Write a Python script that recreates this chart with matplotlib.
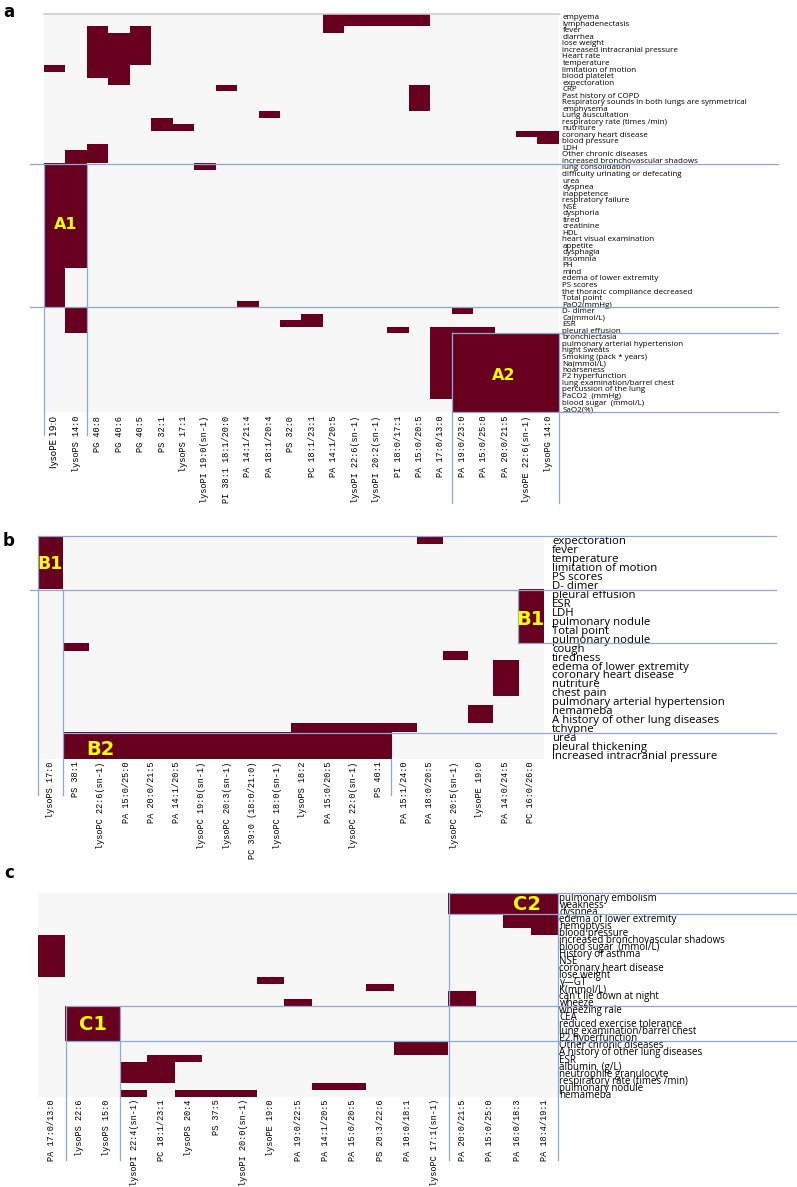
import numpy as np
import matplotlib
matplotlib.use("Agg")
import matplotlib.pyplot as plt
from matplotlib.colors import ListedColormap

# ---------------- data: panel a ----------------
a_rows = ["empyema", "lymphadenectasis", "fever", "diarrhea", "lose weight",
          "increased intracranial pressure", "Heart rate", "temperature",
          "limitation of motion", "blood platelet", "expectoration", "CRP",
          "Past history of COPD", "Respiratory sounds in both lungs are symmetrical",
          "emphysema", "Lung auscultation", "respiratory rate (times /min)", "nutriture",
          "coronary heart disease", "blood pressure", "LDH", "Other chronic diseases",
          "increased bronchovascular shadows", "lung consolidation",
          "difficulty urinating or defecating", "urea", "dyspnea", "inappetence",
          "respiratory failure", "NSE", "dysphoria", "tired", "creatinine", "HDL",
          "heart visual examination", "appetite", "dysphagia", "insomnia", "PH", "mind",
          "edema of lower extremity", "PS scores", "the thoracic compliance decreased",
          "Total point", "PaO2(mmHg)", "D- dimer", "Ca(mmol/L)", "ESR", "pleural effusion",
          "bronchiectasia", "pulmonary arterial hypertension", "night Sweats",
          "Smoking (pack * years)", "Na(mmol/L)", "hoarseness", "P2 hyperfunction",
          "lung examination/barrel chest", "percussion of the lung", "PaCO2  (mmHg)",
          "blood sugar  (mmol/L)", "SaO2(%)"]
a_cols = ["lysoPE 19:0", "lysoPS 14:0", "PG 40:8", "PG 40:6", "PG 40:5", "PS 32:1",
          "lysoPS 17:1", "lysoPI 19:0(sn-1)", "PI 38:1 18:1/20:0", "PA 14:1/21:4",
          "PA 18:1/20:4", "PS 32:0", "PC 18:1/23:1", "PA 14:1/20:5", "lysoPI 22:6(sn-1)",
          "lysoPI 20:2(sn-1)", "PI 18:0/17:1", "PA 15:0/20:5", "PA 17:0/13:0",
          "PA 19:0/23:0", "PA 15:0/25:0", "PA 20:0/21:5", "lysoPE 22:6(sn-1)", "lysoPG 14:0"]
# active (significant) columns for each row of panel a
a_active = [
    [13, 14, 15, 16, 17], [13, 14, 15, 16, 17], [2, 4, 13], [2, 3, 4], [2, 3, 4],
    [2, 3, 4], [2, 3, 4], [2, 3, 4], [0, 2, 3], [2, 3], [3], [8, 17], [17], [17], [17],
    [10], [5], [5, 6], [22, 23], [23], [2], [1, 2], [1, 2], [0, 1, 7],
    [0, 1], [0, 1], [0, 1], [0, 1], [0, 1], [0, 1], [0, 1], [0, 1], [0, 1], [0, 1],
    [0, 1], [0, 1], [0, 1], [0, 1], [0, 1],
    [0], [0], [0], [0], [0], [0, 9], [1, 19], [1, 12], [1, 11, 12], [1, 16, 18, 19, 20],
    [18, 19, 20, 21, 22, 23], [18, 19, 20, 21, 22, 23], [18, 19, 20, 21, 22, 23],
    [18, 19, 20, 21, 22, 23], [18, 19, 20, 21, 22, 23], [18, 19, 20, 21, 22, 23],
    [18, 19, 20, 21, 22, 23], [18, 19, 20, 21, 22, 23], [18, 19, 20, 21, 22, 23],
    [18, 19, 20, 21, 22, 23], [19, 20, 21, 22, 23], [19, 20, 21, 22, 23]]

# ---------------- data: panel b ----------------
b_rows = ["expectoration", "fever", "temperature", "limitation of motion", "PS scores",
          "D- dimer", "pleural effusion", "ESR", "LDH", "pulmonary nodule", "Total point",
          "pulmonary nodule", "cough", "tiredness", "edema of lower extremity",
          "coronary heart disease", "nutriture", "chest pain",
          "pulmonary arterial hypertension", "hemameba", "A history of other lung diseases",
          "tchypne", "urea", "pleural thickening", "increased intracranial pressure"]
b_cols = ["lysoPS 17:0", "PS 38:1", "lysoPC 22:6(sn-1)", "PA 15:0/25:0", "PA 20:0/21:5",
          "PA 14:1/20:5", "lysoPC 19:0(sn-1)", "lysoPC 20:3(sn-1)", "PC 39:0 (18:0/21:0)",
          "lysoPC 18:0(sn-1)", "lysoPS 18:2", "PA 15:0/20:5", "lysoPC 22:0(sn-1)", "PS 40:1",
          "PA 15:1/24:0", "PA 18:0/20:5", "lysoPC 20:5(sn-1)", "lysoPE 19:0", "PA 14:0/24:5",
          "PC 16:0/26:0"]
b_active = [
    [0, 15], [0], [0], [0], [0], [0], [19], [19], [19], [19], [19], [19], [1], [16],
    [18], [18], [18], [18], [], [17], [17], [10, 11, 12, 13, 14],
    list(range(1, 14)), list(range(1, 14)), list(range(1, 14))]

# ---------------- data: panel c ----------------
c_rows = ["pulmonary embolism", "weakness", "dyspnea", "edema of lower extremity",
          "hemoptysis", "blood pressure", "increased bronchovascular shadows",
          "blood sugar  (mmol/L)", "History of asthma", "NSE", "coronary heart disease",
          "lose weight", "\u03b3\u2014GT", "K(mmol/L)", "can't lie down at night", "wheeze",
          "wheezing rale", "CEA", "reduced exercise tolerance",
          "lung examination/barrel chest", "P2 hyperfunction", "Other chronic diseases",
          "A history of other lung diseases", "ESR", "albumin  (g/L)",
          "neutrophile granulocyte", "respiratory rate (times /min)", "pulmonary nodule",
          "hemameba"]
c_cols = ["PA 17:0/13:0", "lysoPS 22:6", "lysoPS 15:0", "lysoPI 22:4(sn-1)", "PC 18:1/23:1",
          "lysoPS 20:4", "PS 37:5", "lysoPI 20:0(sn-1)", "lysoPE 19:0", "PA 19:0/22:5",
          "PA 14:1/20:5", "PA 15:0/20:5", "PS 20:3/22:6", "PA 10:0/18:1", "lysoPC 17:1(sn-1)",
          "PA 20:0/21:5", "PA 15:0/25:0", "PA 16:0/18:3", "PA 18:4/19:1"]
c_active = [
    [15, 16, 17, 18], [15, 16, 17, 18], [15, 16, 17, 18], [17, 18], [17, 18], [18],
    [0], [0], [0], [0], [0], [0], [8], [12], [15], [9, 15],
    [1, 2], [1, 2], [1, 2], [1, 2], [1, 2], [13, 14], [13, 14], [4, 5],
    [3, 4], [3, 4], [3, 4], [10, 11], [3, 5, 6, 7]]

# ---------------- drawing ----------------
W, H = 797, 1187
fig = plt.figure(figsize=(W / 100, H / 100), dpi=100)
fig.patch.set_facecolor("white")

cmap = ListedColormap(["#F7F7F7", "#67001F"])
LINE = "#8EA8D6"
YEL = "#FFFF00"
XFONT = "Liberation Mono"
YFONT = "Open Sans"


def px_axes(x0, y0, x1, y1):
    return fig.add_axes([x0 / W, 1 - y1 / H, (x1 - x0) / W, (y1 - y0) / H])


def to_matrix(active, ncols):
    m = np.zeros((len(active), ncols))
    for r, cols in enumerate(active):
        for c in cols:
            m[r, c] = 1
    return m


def heat(ax, active, xlabels, ylabels, ysize, xpad, ypad, xsize=6.2):
    mat = to_matrix(active, len(xlabels))
    nr, nc = mat.shape
    ax.imshow(mat, cmap=cmap, vmin=0, vmax=1, aspect="auto",
              interpolation="nearest", extent=(0, nc, nr, 0))
    ax.set_xlim(0, nc)
    ax.set_ylim(nr, 0)
    ax.set_xticks(np.arange(nc) + 0.5)
    ax.set_xticklabels(xlabels, rotation=90, fontsize=xsize, family=XFONT)
    ax.set_yticks(np.arange(nr) + 0.5)
    ax.set_yticklabels(ylabels, fontsize=ysize, family=YFONT)
    ax.yaxis.tick_right()
    ax.tick_params(axis="x", length=0, pad=xpad)
    ax.tick_params(axis="y", length=0, pad=ypad)
    for s in ax.spines.values():
        s.set_visible(False)
    return nr, nc


def hline(ax, y, x0, x1, color=LINE, lw=0.9):
    ax.plot([x0, x1], [y, y], color=color, lw=lw, clip_on=False, zorder=5)


def vline(ax, x, y0, y1, color=LINE, lw=0.9):
    ax.plot([x, x], [y0, y1], color=color, lw=lw, clip_on=False, zorder=5)


def tag(ax, x, y, s, size):
    ax.text(x, y, s, color=YEL, fontsize=size, fontweight="bold", family="DejaVu Sans",
            ha="center", va="center", zorder=6, clip_on=False)


# panel a
axa = px_axes(44, 13.5, 559, 411.8)
heat(axa, a_active, a_cols, a_rows, ysize=5.8, xpad=3, ypad=2.5)
xl = axa.get_xticklabels()
xl[0].set_family("DejaVu Sans")
xl[0].set_fontsize(6.5)
hline(axa, 0, 0, 24, color="#CCCCCC", lw=1.2)
hline(axa, 23, -0.65, 34.2)
hline(axa, 45, -0.65, 34.2)
hline(axa, 49, 19, 34.2)
hline(axa, 61, 19, 34.2)
vline(axa, 0, 23, 64.5)
vline(axa, 2, 23, 64.5)
vline(axa, 19, 49, 75)
vline(axa, 24, 49, 75)
tag(axa, 1.0, 32.3, "A1", 11.5)
tag(axa, 21.43, 55.4, "A2", 11.5)

# panel b
axb = px_axes(37.6, 536, 543.1, 759.3)
heat(axb, b_active, b_cols, b_rows, ysize=8.2, xpad=1.5, ypad=6.5)
hline(axb, 0, 0, 29.2)
hline(axb, 6, -0.3, 29.2)
hline(axb, 12, 19, 29.2)
hline(axb, 22, 1, 29.2)
vline(axb, 0, 0, 29.0)
vline(axb, 1, 6, 29.0)
vline(axb, 14, 25, 29.0)
vline(axb, 19, 6, 12)
tag(axb, 0.5, 3.1, "B1", 12.5)
tag(axb, 19.5, 9.3, "B1", 14)
tag(axb, 2.47, 23.85, "B2", 14)

# panel c
axc = px_axes(38.3, 893.3, 558.1, 1097.2)
heat(axc, c_active, c_cols, c_rows, ysize=7.0, xpad=1.5, ypad=1.0)
hline(axc, 0, 15, 27.7)
hline(axc, 3, 15, 27.7)
hline(axc, 16, 1, 27.7)
hline(axc, 21, 1, 27.7)
vline(axc, 1, 16, 37.9)
vline(axc, 3, 16, 37.9)
vline(axc, 15, 0, 37.9)
vline(axc, 19, 0, 37.9)
tag(axc, 2.0, 18.6, "C1", 14)
tag(axc, 17.88, 1.6, "C2", 14)

# panel letters
for letter, (px, py) in {"a": (9, 12), "b": (9, 541), "c": (9, 873)}.items():
    fig.text(px / W, 1 - py / H, letter, fontsize=12, fontweight="bold",
             family="DejaVu Sans", ha="center", va="center")

fig.savefig("out.png", dpi=100)
